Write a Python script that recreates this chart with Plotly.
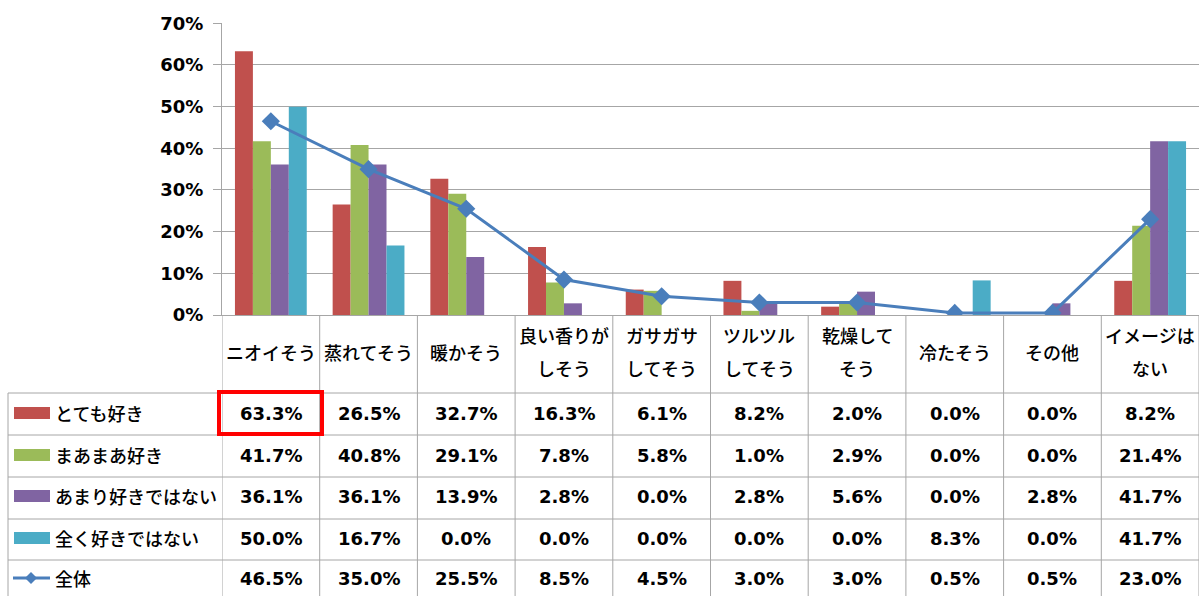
import plotly.graph_objects as go

categories = ["ニオイそう", "蒸れてそう", "暖かそう", "良い香りが<br>しそう", "ガサガサ<br>してそう",
              "ツルツル<br>してそう", "乾燥して<br>そう", "冷たそう", "その他", "イメージは<br>ない"]
series_names = ["とても好き", "まあまあ好き", "あまり好きではない", "全く好きではない"]
v_totemo = [63.3, 26.5, 32.7, 16.3, 6.1, 8.2, 2.0, 0.0, 0.0, 8.2]
v_maamaa = [41.7, 40.8, 29.1, 7.8, 5.8, 1.0, 2.9, 0.0, 0.0, 21.4]
v_amari = [36.1, 36.1, 13.9, 2.8, 0.0, 2.8, 5.6, 0.0, 2.8, 41.7]
v_mattaku = [50.0, 16.7, 0.0, 0.0, 0.0, 0.0, 0.0, 8.3, 0.0, 41.7]
total_name = "全体"
v_total = [46.5, 35.0, 25.5, 8.5, 4.5, 3.0, 3.0, 0.5, 0.5, 23.0]
y_ticks = [0, 10, 20, 30, 40, 50, 60, 70]

bar_values = [v_totemo, v_maamaa, v_amari, v_mattaku]
bar_colors = ["#C0504D", "#9BBB59", "#8064A2", "#4BACC6"]
line_color = "#4A7EBB"
grid = "#A6A6A6"
W, H = 1199, 596
NUM = "DejaVu Sans"
JP = "Noto Sans CJK JP"


def py(px):
    return 1 - px / H


def px_x(px):
    return px / W


xs = list(range(len(categories)))
fig = go.Figure()
for name, vals, col in zip(series_names, bar_values, bar_colors):
    fig.add_trace(go.Bar(x=xs, y=[v / 100 for v in vals], name=name,
                         marker=dict(color=col, line=dict(width=0))))
fig.add_trace(go.Scatter(x=xs, y=[v / 100 for v in v_total], name=total_name, mode="lines+markers",
                         line=dict(color=line_color, width=3),
                         marker=dict(symbol="diamond", size=14, color=line_color)))

plot_top, plot_bot, plot_left = 23.3, 315, 222
fig.update_layout(
    width=W, height=H, margin=dict(l=0, r=0, t=0, b=0, autoexpand=False),
    paper_bgcolor="white", plot_bgcolor="white",
    barmode="group", bargap=0.265, bargroupgap=0, showlegend=False,
    xaxis=dict(domain=[px_x(plot_left), 1], range=[-0.5, len(categories) - 0.5],
               showticklabels=False, showgrid=False, zeroline=False, automargin=False,
               showline=True, linecolor=grid, linewidth=1, ticks=""),
    yaxis=dict(domain=[py(plot_bot), py(plot_top)], range=[0, 0.7], automargin=False,
               tickvals=[t / 100 for t in y_ticks], ticktext=[f"{t}%" for t in y_ticks],
               tickfont=dict(family=NUM, size=18, color="black", weight="bold"),
               showgrid=True, gridcolor=grid, gridwidth=1, zeroline=False,
               showline=True, linecolor=grid, ticks="outside", ticklen=8, tickcolor=grid,
               ticklabelstandoff=6),
)

shapes = []
# vertical category boundaries (table)
for j in range(len(categories) + 1):
    shapes.append(dict(type="line", xref="x", yref="paper", x0=j - 0.5, x1=j - 0.5,
                       y0=0, y1=py(plot_bot), line=dict(color=grid, width=1)))
# left border of legend column
shapes.append(dict(type="line", xref="paper", yref="paper", x0=px_x(8), x1=px_x(8),
                   y0=0, y1=py(393), line=dict(color=grid, width=1)))
# horizontal row lines
row_lines = [393, 435, 477, 519, 560]
for yl in row_lines:
    shapes.append(dict(type="line", xref="paper", yref="paper", x0=px_x(8), x1=1,
                       y0=py(yl), y1=py(yl), line=dict(color=grid, width=1)))

annotations = []
# category labels
for j, c in enumerate(categories):
    parts = c.split("<br>")
    ys = [352] if len(parts) == 1 else [335, 368]
    for part, yy in zip(parts, ys):
        annotations.append(dict(x=j, xref="x", y=py(yy), yref="paper", text=part, showarrow=False,
                                font=dict(family=JP, size=18, color="black", weight=500),
                                xanchor="center", yanchor="middle"))

row_centers = [413, 455, 496, 538, 578]
all_names = series_names + [total_name]
all_vals = bar_values + [v_total]
for r, (name, vals) in enumerate(zip(all_names, all_vals)):
    yc = row_centers[r]
    for j, v in enumerate(vals):
        annotations.append(dict(x=j, xref="x", y=py(yc), yref="paper", text=f"{v:.1f}%",
                                showarrow=False, font=dict(family=NUM, size=18, color="black", weight="bold"),
                                xanchor="center", yanchor="middle"))
    annotations.append(dict(x=px_x(53), xref="paper", y=py(yc), yref="paper", text=name,
                            showarrow=False, font=dict(family=JP, size=18, color="black", weight=500),
                            xanchor="left", yanchor="middle"))
    if r < len(series_names):
        shapes.append(dict(type="rect", xref="paper", yref="paper", x0=px_x(14), x1=px_x(50),
                           y0=py(yc + 6), y1=py(yc - 6), fillcolor=bar_colors[r], line=dict(width=0)))
    else:
        shapes.append(dict(type="line", xref="paper", yref="paper", x0=px_x(13), x1=px_x(50),
                           y0=py(yc), y1=py(yc), line=dict(color=line_color, width=3)))
        shapes.append(dict(type="path", xref="paper", yref="paper",
                           path=f"M {px_x(31)},{py(yc-6)} L {px_x(37)},{py(yc)} L {px_x(31)},{py(yc+6)} L {px_x(25)},{py(yc)} Z",
                           fillcolor=line_color, line=dict(width=0)))

# highlight box
shapes.append(dict(type="rect", xref="paper", yref="paper", x0=px_x(219), x1=px_x(322),
                   y0=py(434), y1=py(392), line=dict(color="#FF0000", width=4)))

fig.update_layout(shapes=shapes, annotations=annotations)
fig.write_html("out.html", config={"displayModeBar": False},
               post_script="document.body.style.margin='0';document.body.style.padding='0';"
                           "document.documentElement.style.overflow='hidden';")
